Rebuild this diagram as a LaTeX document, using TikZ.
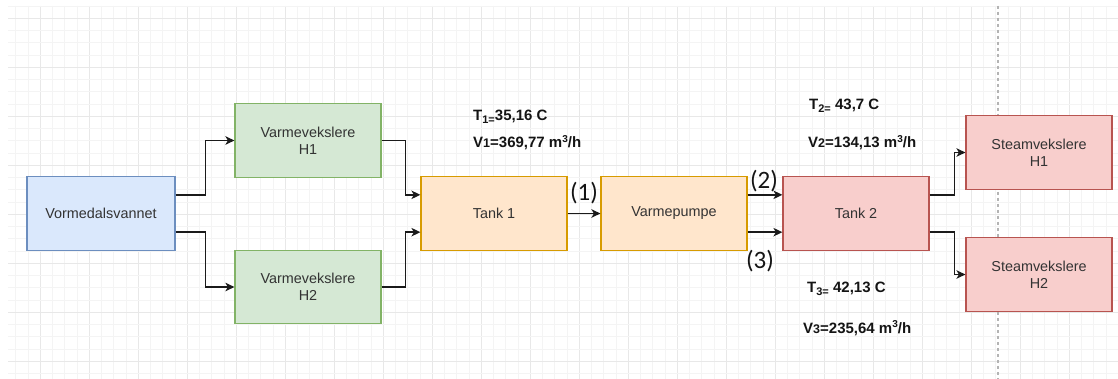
\documentclass[tikz,border=0pt]{standalone}
\usepackage{fontspec}
\setmainfont{Liberation Sans}
\newfontfamily\calfont{Carlito}
\usetikzlibrary{arrows.meta,calc}
\definecolor{bluef}{HTML}{DAE8FC}\definecolor{blues}{HTML}{6C8EBF}
\definecolor{greenf}{HTML}{D5E8D4}\definecolor{greens}{HTML}{82B366}
\definecolor{orangef}{HTML}{FFE6CC}\definecolor{oranges}{HTML}{D79B00}
\definecolor{redf}{HTML}{F8CECC}\definecolor{reds}{HTML}{B85450}
\definecolor{txt}{HTML}{333333}
\definecolor{labtxt}{HTML}{141414}
\definecolor{conncol}{HTML}{1A1A1A}
\definecolor{gridmin}{HTML}{F4F4F4}
\definecolor{gridmaj}{HTML}{E8E8E8}
\definecolor{dashcol}{HTML}{B4B4B4}
\newcommand\lsub[1]{\raisebox{-3pt}{\fontsize{11}{11}\selectfont #1}}
\newcommand\lsup[1]{\raisebox{5.5pt}{\fontsize{10}{10}\selectfont #1}}
\newcommand\lsmall[1]{{\fontsize{12.5}{12.5}\selectfont #1}}
\begin{document}
\begin{tikzpicture}[x=1pt,y=-1pt,
  box/.style={draw, line width=1.2pt, minimum width=146pt, minimum height=73.5pt,
    inner sep=0pt, align=center, font=\fontsize{14.4}{17.3}\selectfont, text=txt},
  bluebox/.style={box, fill=bluef, draw=blues},
  greenbox/.style={box, fill=greenf, draw=greens},
  orangebox/.style={box, fill=orangef, draw=oranges},
  redbox/.style={box, fill=redf, draw=reds},
  lab/.style={anchor=base west, inner sep=0pt, font=\bfseries\fontsize{15}{18}\selectfont, text=labtxt},
  num/.style={inner sep=0pt, anchor=center, font=\calfont\fontsize{25}{30}\selectfont, text=labtxt},
  conn/.style={line width=1.4pt, draw=conncol, -{Stealth[length=9pt,width=8.5pt,inset=2.5pt]}},
  elbow/.style={to path={-- ++(#1,0) |- (\tikztotarget)}},
  gmin/.style={draw=gridmin, line width=1pt},
  gmaj/.style={draw=gridmaj, line width=1pt}
]
\useasboundingbox (0,0) rectangle (1118,379);
\fill[white] (0,0) rectangle (1118,379);
% grid
\begin{scope}
\clip (8,6) rectangle (1118,379);
\foreach \i in {-3,...,88}{
  \pgfmathsetmacro\xx{40.3+12.25*\i}
  \pgfmathtruncatemacro\m{mod(\i+400,4)}
  \ifnum\m=0 \draw[gmaj] (\xx,6) -- (\xx,379); \else \draw[gmin] (\xx,6) -- (\xx,379); \fi
}
\foreach \j in {-1,...,30}{
  \pgfmathsetmacro\yy{18.3+12.25*\j}
  \pgfmathtruncatemacro\m{mod(\j+400,4)}
  \ifnum\m=0 \draw[gmaj] (8,\yy) -- (1118,\yy); \else \draw[gmin] (8,\yy) -- (1118,\yy); \fi
}
\end{scope}
% dashed guide
\coordinate (dtop) at (998,6);
\coordinate (dbot) at (998,379);
\draw[dashcol, line width=1.2pt, dash pattern=on 3pt off 3pt] (dtop) -- (dbot);
% nodes
\node[bluebox]   (vor) at (101,213.5) [minimum width=148pt] {Vormedalsvannet};
\node[greenbox]  (h1)  at (308,140.5) {Varmevekslere\\H1};
\node[greenbox]  (h2)  at (308,287)   {Varmevekslere\\H2};
\node[orangebox] (t1)  at (494,213.5) {Tank 1};
\node[orangebox] (vp)  at (674,213.5) {Varmepumpe};
\node[redbox]    (t2)  at (856,213.5) {Tank 2};
\node[redbox]    (s1)  at (1039,152.5) {Steamvekslere\\H1};
\node[redbox]    (s2)  at (1039,274.5) {Steamvekslere\\H2};
% connectors
\draw[conn] ($(vor.north east)!.25!(vor.south east)$) to[elbow=30] (h1.west);
\draw[conn] ($(vor.north east)!.75!(vor.south east)$) to[elbow=30] (h2.west);
\draw[conn] (h1.east) to[elbow=24] ($(t1.north west)!.25!(t1.south west)$);
\draw[conn] (h2.east) to[elbow=24] ($(t1.north west)!.75!(t1.south west)$);
\draw[conn] (t1.east) -- (vp.west);
\draw[conn] ($(vp.north east)!.25!(vp.south east)$) -- ($(t2.north west)!.25!(t2.south west)$);
\draw[conn] ($(vp.north east)!.75!(vp.south east)$) -- ($(t2.north west)!.75!(t2.south west)$);
\draw[conn] ($(t2.north east)!.25!(t2.south east)$) to[elbow=25] (s1.west);
\draw[conn] ($(t2.north east)!.75!(t2.south east)$) to[elbow=25] (s2.west);
% numbers
\node[num] (n1) at (584,193) {(1)};
\node[num] (n2) at (764,181) {(2)};
\node[num] (n3) at (760,261) {(3)};
% labels
\node[lab] (lt1) at (473,121) {T\lsub{1=}35,16 C};
\node[lab] (lv1) at (473,148) {V\lsmall{1}=369,77 m\lsup{3}/h};
\node[lab] (lt2) at (809,110) {T\lsub{2=} 43,7 C};
\node[lab] (lv2) at (808,148) {V\lsmall{2}=134,13 m\lsup{3}/h};
\node[lab] (lt3) at (807,292) {T\lsub{3=} 42,13 C};
\node[lab] (lv3) at (803,333) {V\lsmall{3}=235,64 m\lsup{3}/h};
\end{tikzpicture}
\end{document}
